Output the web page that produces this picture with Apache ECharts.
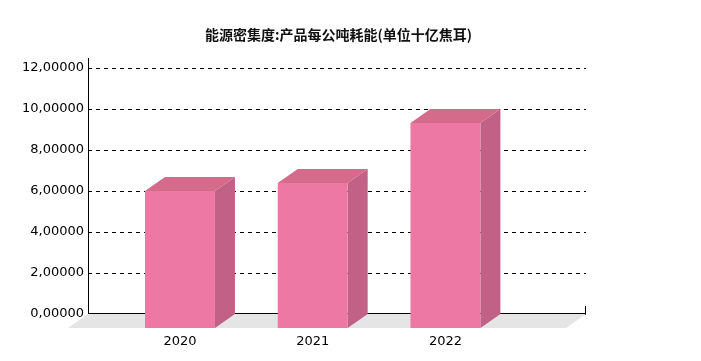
<!DOCTYPE html>
<html>
<head>
<meta charset="utf-8">
<style>html,body{margin:0;padding:0;background:#fff;}#c{width:701px;height:361px;}</style>
<script src="https://cdn.jsdelivr.net/npm/echarts@6/dist/echarts.min.js"></script>
</head>
<body>
<div id="c"></div>
<script>
const titleText = '能源密集度:产品每公吨耗能(单位十亿焦耳)';
const categories = ['2020', '2021', '2022'];
const values = [6.68, 7.07, 10.0];
const yMin = 0, yMax = 12, yStep = 2;

const DX = 20, DY = 14;
const colFront = '#ec78a3', colTop = '#d46b8a', colSide = '#c16186', colFloor = '#e5e5e5';

const chart = echarts.init(document.getElementById('c'), null, {renderer: 'canvas'});

function fmt(v) { return v.toFixed(5).replace('.', ','); }

chart.setOption({
  animation: false,
  backgroundColor: '#fff',
  title: {
    text: titleText, left: 200, top: 23,
    textStyle: {fontFamily: 'Noto Sans CJK SC', fontSize: 14, fontWeight: 'bold', color: '#111'}
  },
  grid: [
    {left: 88, right: 115, top: 68, bottom: 47},
    {left: 113.6, right: 189.2, top: 82, bottom: 33}
  ],
  xAxis: [
    {gridIndex: 0, type: 'category', data: categories, show: false},
    {gridIndex: 1, type: 'category', data: categories,
      axisLine: {show: false}, axisTick: {show: false}, splitLine: {show: false},
      axisLabel: {margin: 7, fontFamily: 'DejaVu Sans', fontSize: 13, color: '#000'}}
  ],
  yAxis: [
    {gridIndex: 0, type: 'value', min: yMin, max: yMax, interval: yStep,
      axisLine: {show: false}, axisTick: {show: false},
      axisLabel: {margin: 4, fontFamily: 'DejaVu Sans', fontSize: 13, color: '#000', formatter: fmt},
      splitLine: {show: true, lineStyle: {color: '#000', width: 1, type: [4, 4]}}},
    {gridIndex: 1, type: 'value', min: yMin, max: yMax, interval: yStep, show: false}
  ],
  series: [
    {
      type: 'custom', xAxisIndex: 0, yAxisIndex: 0, z: 1,
      data: [[0, 0]],
      renderItem: function (params, api) {
        const cs = params.coordSys;
        const x0 = cs.x, x1 = cs.x + cs.width, yb = cs.y + cs.height, yt = cs.y;
        return {type: 'group', children: [
          {type: 'polygon', shape: {points: [[x0, yb], [x1, yb], [x1 - DX, yb + DY], [x0 - DX, yb + DY]]},
            style: {fill: colFloor}},
          {type: 'line', shape: {x1: x0, y1: yb - 0.5, x2: x1, y2: yb - 0.5}, style: {stroke: '#000', lineWidth: 1}},
          {type: 'line', shape: {x1: x1 - 0.5, y1: yb - 8, x2: x1 - 0.5, y2: yb}, style: {stroke: '#000', lineWidth: 1}},
          {type: 'line', shape: {x1: x0 + 0.5, y1: yt - 10, x2: x0 + 0.5, y2: yb}, style: {stroke: '#000', lineWidth: 1}}
        ]};
      }
    },
    {
      type: 'custom', xAxisIndex: 1, yAxisIndex: 1, z: 3,
      data: values.map((v, i) => [i, v]),
      renderItem: function (params, api) {
        const top = api.coord([api.value(0), api.value(1)]);
        const bot = api.coord([api.value(0), 0]);
        const band = api.size([1, 0])[0];
        const w = band * 0.527;
        const xl = top[0] - w / 2, xr = top[0] + w / 2;
        const yt = top[1], yb = bot[1];
        return {type: 'group', children: [
          {type: 'polygon', shape: {points: [[xr, yt], [xr + DX, yt - DY], [xr + DX, yb - DY], [xr, yb]]},
            style: {fill: colSide}},
          {type: 'polygon', shape: {points: [[xl, yt], [xr, yt], [xr + DX, yt - DY], [xl + DX, yt - DY]]},
            style: {fill: colTop}},
          {type: 'rect', shape: {x: xl, y: yt, width: w, height: yb - yt}, style: {fill: colFront}}
        ]};
      }
    }
  ]
});
</script>
</body>
</html>
